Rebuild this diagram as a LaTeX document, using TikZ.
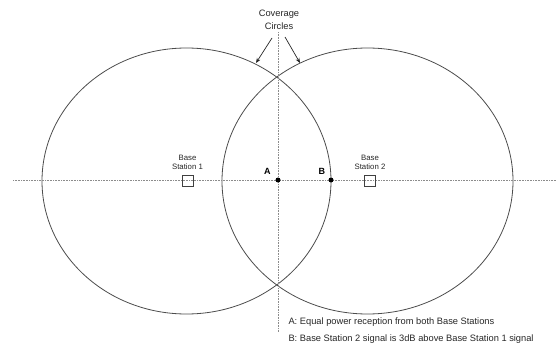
\documentclass[tikz,border=0pt]{standalone}
\usepackage{fontspec}
\setmainfont{Liberation Sans}
\usetikzlibrary{arrows.meta,positioning}
\tikzset{
  cov/.style={draw=black!70, line width=0.8pt},
  axis/.style={draw=black!45, line width=0.8pt, dash pattern=on 1pt off 0.6pt},
  bs/.style={
    rectangle, draw=black!75, line width=0.7pt, minimum size=11pt,
    inner sep=0pt
  },
  lbl/.style={font=\fontsize{7.8}{8.8}\selectfont, align=center, text=black!85},
  biglbl/.style={font=\fontsize{9.3}{12.5}\selectfont, align=center, text=black!85},
  pt/.style={circle, fill=black, minimum size=5pt, inner sep=0pt},
  ptlbl/.style={font=\bfseries\fontsize{9}{10}\selectfont},
  callout/.style={-{Stealth[length=5pt,width=4pt]}, draw=black!85, line width=0.7pt},
}

\begin{document}
\begin{tikzpicture}[x=1pt, y=-1pt]
  \useasboundingbox (0,0) rectangle (557,345);
  % coverage circles
  \draw[cov] (186.5,181) ellipse [x radius=144.5, y radius=133];
  \draw[cov] (367.5,181) ellipse [x radius=145.5, y radius=133];
  % axes
  \coordinate (hl) at (13,180);
  \coordinate (hr) at (556,180);
  \coordinate (vt) at (278,32);
  \coordinate (vb) at (278,332);
  \draw[axis] (hl) -- (hr);
  \draw[axis] (vt) -- (vb);
  % base stations
  \node[bs] (bs1) at (187.5,180.5) {};
  \node[bs] (bs2) at (370,180.5) {};
  \node[lbl, above=2pt of bs1] {Base\\Station 1};
  \node[lbl, above=2pt of bs2] {Base\\Station 2};
  % points
  \node[pt] (a) at (278,180) {};
  \node[pt] (b) at (331,180) {};
  \node[ptlbl, above left=0pt and 2pt of a] {A};
  \node[ptlbl, above left=0pt and 0.5pt of b] {B};
  % title and arrows
  \node[biglbl] (title) at (279,20) {Coverage\\Circles};
  \coordinate (tipl) at (256,63);
  \coordinate (tipr) at (300,63);
  \draw[callout] (272,38) -- (tipl);
  \draw[callout] (285,37) -- (tipr);
  % legend
  \node[biglbl, anchor=west] (lga) at (285,322) {A:\ Equal power reception from both Base Stations};
  \node[biglbl, below=1pt of lga.south west, anchor=north west] (lgb)
    {B:\ Base Station 2 signal is 3dB above Base Station 1 signal};
\end{tikzpicture}
\end{document}
